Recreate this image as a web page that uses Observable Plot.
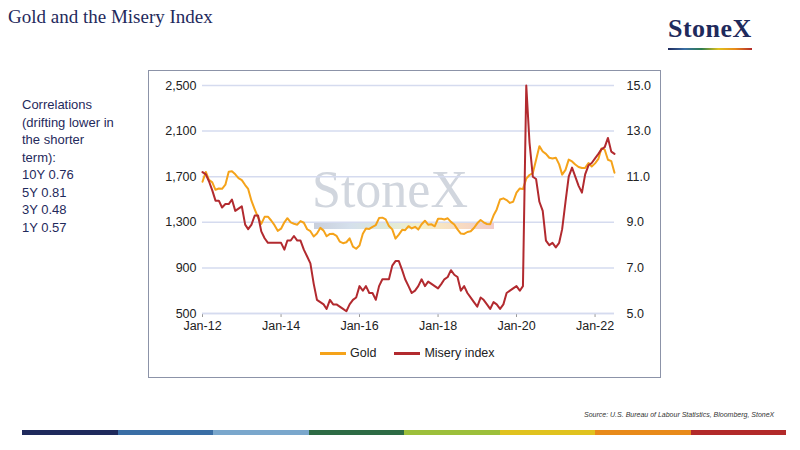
<!DOCTYPE html>
<html><head><meta charset="utf-8">
<script src="https://cdn.jsdelivr.net/npm/d3@7"></script>
<script src="https://cdn.jsdelivr.net/npm/@observablehq/plot@0.6"></script>
<style>
body{margin:0;width:800px;height:450px;position:relative;background:#fff;font-family:Arial,"Liberation Sans",sans-serif;overflow:hidden}
#title{position:absolute;left:8px;top:6px;font-family:"Liberation Serif",serif;font-size:19px;color:#1f2a5c}
#logo{position:absolute;left:668px;top:14px;font-family:"Liberation Serif",serif;font-weight:bold;font-size:26px;color:#1f2a5c;letter-spacing:0.5px}
#logo:after{content:"";position:absolute;left:0;right:0;top:34px;height:2px;background:linear-gradient(90deg,#1f2a5c,#3a6ea5,#2e7d4f,#e0c21f,#e88a1a,#b22a2a)}
#corr{position:absolute;left:22px;top:96px;font-size:13px;line-height:17.5px;color:#1f2a5c}
#box{position:absolute;left:148px;top:70px;width:511px;height:306px;border:1px solid #8c93a8}
#chart{position:absolute;left:150px;top:72px}
#wm{position:absolute;left:312px;top:160px;font-family:"Liberation Serif",serif;font-size:52px;color:#c6ccd6;opacity:.8}
#wmbar{position:absolute;left:314px;top:223px;width:180px;height:6px;background:linear-gradient(90deg,#c9cfdc,#d5e0ec,#dde9dc,#f6efc7,#f8dcc0,#f0cccc)}
#legend{position:absolute;left:320px;top:346px;font-size:12.5px;color:#222;display:flex;gap:18px}
#legend span{display:inline-flex;align-items:center}
#legend i{display:inline-block;width:26px;height:3px;margin-right:4px}
#src{position:absolute;left:584px;top:411px;font-size:7px;font-style:italic;color:#333}
#stripe{position:absolute;left:22px;top:430px;width:764px;height:5px;display:flex}
#stripe div{flex:1}
</style></head><body>
<div id="title">Gold and the Misery Index</div>
<div id="logo">StoneX</div>
<div id="corr">Correlations<br>(drifting lower in<br>the shorter<br>term):<br>10Y 0.76<br>5Y 0.81<br>3Y 0.48<br>1Y 0.57</div>
<div id="box"></div>
<div id="wm">StoneX</div>
<div id="wmbar"></div>
<div id="chart"></div>
<div id="legend"><span><i style="background:#f5a31a"></i>Gold</span><span><i style="background:#b22a2f"></i>Misery index</span></div>
<div id="src">Source: U.S. Bureau of Labour Statistics, Bloomberg, StoneX</div>
<div id="stripe"><div style="background:#1f2a5c"></div><div style="background:#3a6ea5"></div><div style="background:#7aa7cc"></div><div style="background:#2e6b45"></div><div style="background:#9cbf3b"></div><div style="background:#e0c21f"></div><div style="background:#e88a1a"></div><div style="background:#b22a2a"></div></div>
<script>
const startYear = 2012;
const gold = [
1656,1742,1673,1650,1585,1596,1594,1630,1744,1747,1721,1688,
1670,1627,1593,1487,1414,1343,1286,1348,1349,1316,1275,1225,
1244,1300,1336,1299,1287,1279,1311,1296,1239,1222,1176,1201,
1251,1227,1178,1198,1199,1181,1131,1117,1125,1159,1086,1068,
1097,1200,1246,1242,1260,1276,1337,1341,1326,1267,1238,1157,
1192,1234,1231,1266,1246,1260,1236,1283,1314,1279,1282,1265,
1331,1331,1325,1335,1304,1281,1238,1201,1198,1215,1221,1250,
1291,1320,1300,1285,1283,1359,1413,1500,1510,1495,1470,1480,
1560,1597,1591,1683,1715,1732,1847,1968,1921,1900,1866,1859,
1867,1808,1718,1760,1850,1834,1807,1785,1776,1777,1820,1790,
1817,1856,1948,1937,1849,1837,1735];
const misery = [
11.2,11.1,10.8,10.4,9.95,9.95,9.65,9.8,9.8,10.0,9.5,9.6,
9.7,8.9,8.7,8.9,9.3,9.3,8.6,8.3,8.1,8.1,8.1,8.1,
8.1,7.8,8.2,8.2,8.4,8.2,8.2,7.8,7.5,7.2,6.3,5.6,
5.5,5.4,5.2,5.6,5.4,5.4,5.3,5.2,5.1,5.4,5.6,5.7,
6.2,6.0,6.2,5.9,5.9,5.6,6.2,6.5,6.5,6.5,7.1,7.3,
7.3,6.9,6.5,6.2,5.9,6.0,6.2,6.5,6.2,6.4,6.3,6.2,
6.1,6.3,6.5,6.6,6.9,6.7,6.6,6.0,6.2,5.9,5.7,5.5,
5.3,5.7,5.6,5.4,5.2,5.5,5.4,5.2,5.4,5.9,6.0,6.1,
6.2,6.0,6.2,15.0,12.5,11.0,10.9,9.9,9.5,8.2,8.0,8.1,
7.9,8.1,8.7,9.9,11.0,11.4,11.0,10.6,10.3,11.1,11.5,11.6,
11.8,12.0,12.2,12.3,12.7,12.1,12.0];
const leftTicks = [500,900,1300,1700,2100,2500];
const rightTicks = [5,7,9,11,13,15];
const xTickYears = [2012,2014,2016,2018,2020,2022];

const toLeft = m => 500 + (m - 5) * 200;
const date = i => new Date(startYear + Math.floor(i/12), i % 12, 1);
const goldData = gold.map((v,i)=>({d:date(i), v}));
const misData = misery.map((v,i)=>({d:date(i), v:toLeft(v)}));

const plot = Plot.plot({
  width: 508, height: 300,
  marginLeft: 52, marginRight: 44, marginTop: 13, marginBottom: 59,
  style:{fontFamily:"Arial, 'Liberation Sans', sans-serif", fontSize:"12.5px", color:"#222"},
  x:{type:"time", domain:[new Date(2012,0,1), new Date(2022,6,1)]},
  y:{domain:[500,2500]},
  marks:[
    Plot.gridY(leftTicks,{stroke:"#d5dbef", strokeOpacity:1, strokeWidth:1.5}),
    Plot.axisY(leftTicks,{anchor:"left", tickSize:0, tickPadding:6, label:null, tickFormat:d3.format(",")}),
    Plot.axisY(leftTicks,{anchor:"right", tickSize:0, tickPadding:12, label:null, tickFormat:(d,i)=>rightTicks[i].toFixed(1)}),
    Plot.axisX(xTickYears.map(y=>new Date(y,0,1)),{tickSize:4, stroke:"#999", label:null, tickPadding:4, tickFormat:d3.timeFormat("%b-%y")}),
    Plot.ruleY([500],{stroke:"#d5dbef", strokeWidth:1.5}),
    Plot.line(goldData,{x:"d", y:"v", stroke:"#f5a31a", strokeWidth:2}),
    Plot.line(misData,{x:"d", y:"v", stroke:"#b22a2f", strokeWidth:2})
  ]
});
document.getElementById("chart").appendChild(plot);
</script>
</body></html>
